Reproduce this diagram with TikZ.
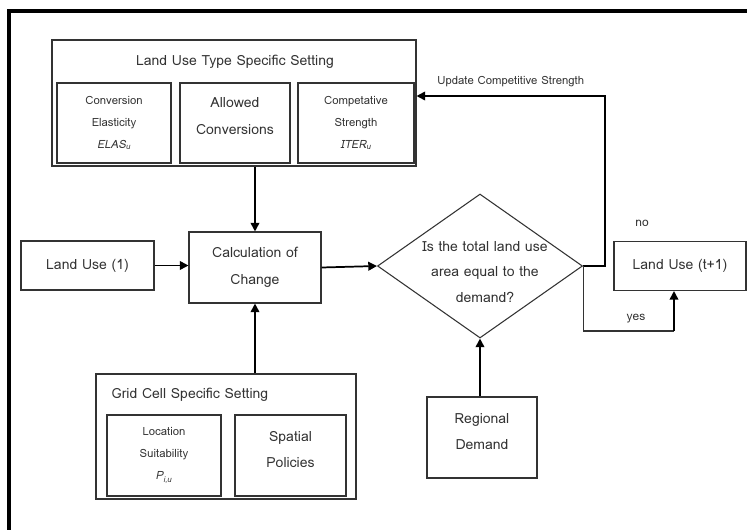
\documentclass[tikz,border=0pt]{standalone}
\usepackage{fontspec}
\setmainfont{Loma}
\newfontfamily\slfont{Loma}[FakeSlant=0.2]
\usetikzlibrary{arrows.meta,shapes.geometric}
\begin{document}
\begin{tikzpicture}[x=0.75pt,y=-0.75pt,
  every node/.style={text=black!80},
  box/.style={draw=black!80, line width=0.8pt, rectangle, inner sep=0pt, align=center},
  big/.style={font=\fontsize{10.5}{20}\selectfont},
  small/.style={font=\fontsize{8.5}{16.5}\selectfont},
  arr/.style={line width=1.3pt, -{Triangle[length=6.5pt,width=6.5pt]}},
  plain/.style={line width=1.1pt}]
\useasboundingbox (0,0) rectangle (747,529);
% frame
\draw[line width=2.3pt] (9,560) -- (9,11) -- (780,11);
% top group
\node[box, minimum width=364*0.75pt, minimum height=126*0.75pt] (lut) at (234,103) {};
\node[font=\fontsize{10.5}{13}\selectfont] (luttitle) at (235,62) {Land Use Type Specific Setting};
\node[box, small, minimum width=114*0.75pt, minimum height=80*0.75pt] (elas) at (114,123)
  {Conversion\\Elasticity\\{\slfont ELAS\textsubscript{u}}};
\node[box, minimum width=110*0.75pt, minimum height=80*0.75pt,
  label={[big, align=center, yshift=5pt]center:Allowed\\Conversions}] (allowed) at (235,123) {};
\node[box, small, minimum width=116*0.75pt, minimum height=80*0.75pt] (iter) at (356,123)
  {Competative\\Strength\\{\slfont ITER\textsubscript{u}}};
% middle
\node[box, big, minimum width=133*0.75pt, minimum height=49*0.75pt] (lu1) at (87.5,265.5) {Land Use (1)};
\node[box, big, minimum width=132*0.75pt, minimum height=71*0.75pt] (calc) at (255,267.5) {Calculation of\\Change};
\node[diamond, draw=black!80, line width=0.8pt, minimum width=205*0.75pt, minimum height=144*0.75pt, inner sep=0pt] (dec) at (480,266) {};
\node[align=center, font=\fontsize{10.5}{19}\selectfont] (dectext) at (485,272) {Is the total land use\\area equal to the\\demand?};
\node[box, big, minimum width=132*0.75pt, minimum height=49*0.75pt] (lu2) at (680,266) {Land Use (t+1)};
% bottom group
\node[box, minimum width=260*0.75pt, minimum height=125*0.75pt] (grid) at (226,436.5) {};
\node[font=\fontsize{10.5}{13}\selectfont, anchor=west] (gridtitle) at (107,395) {Grid Cell Specific Setting};
\node[box, small, minimum width=114*0.75pt, minimum height=81*0.75pt] (loc) at (164,455.5)
  {Location\\Suitability\\{\slfont P\textsubscript{i,u}}};
\node[box, minimum width=111*0.75pt, minimum height=81*0.75pt,
  label={[big, align=center, yshift=4.5pt]center:Spatial\\Policies}] (spat) at (290.5,455.5) {};
\node[box, minimum width=110*0.75pt, minimum height=81*0.75pt,
  label={[big, align=center, yshift=4.5pt]center:Regional\\Demand}] (reg) at (482,437.5) {};
% connectors
\draw[arr] (calc.north |- lut.south) -- (calc.north);
\draw[arr] (lu1.east) -- (calc.west |- lu1.east);
\draw[arr] (calc.east) -- (dec.west);
\draw[arr] (calc.south |- grid.north) -- (calc.south);
\draw[arr] (dec.south |- reg.north) -- (dec.south);
\coordinate (upc) at (605,96);
\draw[arr] (dec.east) -| (upc) -- (upc -| lut.east)
  node[pos=0.5, above=3pt, small] (updlabel) {Update Competitive Strength};
\coordinate (yesc) at (674,331);
\draw[black!80, line width=0.8pt] (dec.east) |- (yesc);
\draw[arr] (yesc) -- (yesc |- lu2.south);
\node[font=\fontsize{9}{11}\selectfont] (nolabel) at (642,223) {no};
\node[font=\fontsize{9}{11}\selectfont] (yeslabel) at (636,319) {yes};
\end{tikzpicture}
\end{document}
